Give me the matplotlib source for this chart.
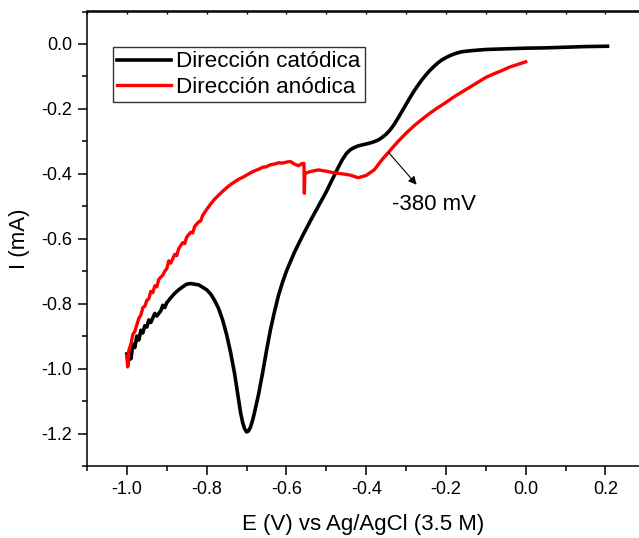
import matplotlib
matplotlib.use('Agg')
import matplotlib.pyplot as plt
from matplotlib.ticker import MultipleLocator

plt.rcParams['font.family'] = ['Liberation Sans', 'DejaVu Sans']
plt.rcParams['axes.unicode_minus'] = False

# cathodic sweep (0.2 V -> -1.0 V)
cat_e = [0.205, 0.15, 0.10, 0.05, 0.0, -0.05, -0.10, -0.12, -0.14, -0.16,
         -0.17, -0.18, -0.19, -0.20, -0.21, -0.22, -0.23, -0.24, -0.25, -0.26,
         -0.27, -0.28, -0.29, -0.30, -0.31, -0.32, -0.33, -0.34, -0.35, -0.36,
         -0.37, -0.38, -0.39, -0.40, -0.41, -0.42, -0.43, -0.44, -0.45, -0.46,
         -0.47, -0.48, -0.49, -0.50, -0.52, -0.54, -0.56, -0.58, -0.60, -0.61,
         -0.62, -0.63, -0.64, -0.65, -0.66, -0.67, -0.68, -0.685, -0.69, -0.695,
         -0.70, -0.705, -0.71, -0.715, -0.72, -0.725, -0.73, -0.74, -0.75, -0.76,
         -0.77, -0.78, -0.79, -0.80, -0.82, -0.84, -0.85, -0.86, -0.87, -0.88,
         -0.89, -0.90, -0.905, -0.91, -0.915, -0.925, -0.93, -0.94, -0.945, -0.95,
         -0.955, -0.96, -0.965, -0.97, -0.975, -0.98, -0.985, -0.99, -0.993, -0.997, -1.0]
cat_i = [-0.007, -0.008, -0.010, -0.012, -0.013, -0.015, -0.017, -0.019, -0.021, -0.024,
         -0.027, -0.031, -0.036, -0.042, -0.049, -0.058, -0.069, -0.081, -0.095, -0.110,
         -0.127, -0.145, -0.165, -0.186, -0.207, -0.228, -0.248, -0.265, -0.278, -0.288,
         -0.296, -0.301, -0.305, -0.308, -0.311, -0.314, -0.319, -0.326, -0.338, -0.357,
         -0.380, -0.405, -0.430, -0.455, -0.500, -0.545, -0.592, -0.642, -0.700, -0.735,
         -0.775, -0.825, -0.880, -0.945, -1.015, -1.080, -1.135, -1.160, -1.180, -1.192,
         -1.195, -1.185, -1.165, -1.135, -1.095, -1.055, -1.015, -0.950, -0.895, -0.850,
         -0.815, -0.790, -0.770, -0.757, -0.742, -0.738, -0.740, -0.748, -0.757, -0.768,
         -0.782, -0.797, -0.812, -0.805, -0.822, -0.838, -0.830, -0.858, -0.850, -0.872,
         -0.868, -0.890, -0.882, -0.912, -0.900, -0.935, -0.925, -0.970, -0.940, -0.985, -0.955]

# anodic sweep (-1.0 V -> 0.0 V)
ano_e = [-1.0, -0.998, -0.995, -0.99, -0.985, -0.98, -0.975, -0.97, -0.965, -0.96,
         -0.955, -0.95, -0.945, -0.94, -0.935, -0.93, -0.925, -0.92, -0.91, -0.905,
         -0.90, -0.895, -0.89, -0.88, -0.875, -0.87, -0.86, -0.855, -0.85, -0.84,
         -0.835, -0.83, -0.82, -0.815, -0.81, -0.80, -0.79, -0.78, -0.77, -0.76,
         -0.75, -0.74, -0.73, -0.72, -0.71, -0.70, -0.69, -0.68, -0.67, -0.66,
         -0.65, -0.64, -0.63, -0.62, -0.61, -0.60, -0.59, -0.58, -0.57, -0.56,
         -0.556, -0.555, -0.554, -0.55, -0.54, -0.52, -0.50, -0.48, -0.46, -0.44,
         -0.42, -0.40, -0.38, -0.36, -0.34, -0.32, -0.30, -0.28, -0.26, -0.24,
         -0.22, -0.20, -0.18, -0.16, -0.14, -0.12, -0.10, -0.08, -0.06, -0.04,
         -0.02, 0.0]
ano_i = [-0.960, -0.995, -0.945, -0.925, -0.895, -0.885, -0.865, -0.845, -0.835, -0.812,
         -0.808, -0.790, -0.785, -0.762, -0.766, -0.745, -0.748, -0.725, -0.712, -0.700,
         -0.692, -0.668, -0.675, -0.648, -0.652, -0.630, -0.612, -0.615, -0.595, -0.580,
         -0.582, -0.562, -0.548, -0.545, -0.528, -0.510, -0.493, -0.478, -0.466, -0.454,
         -0.443, -0.433, -0.425, -0.417, -0.411, -0.404, -0.397, -0.391, -0.386, -0.380,
         -0.378, -0.372, -0.370, -0.366, -0.367, -0.364, -0.362, -0.370, -0.375, -0.368,
         -0.368, -0.460, -0.400, -0.397, -0.393, -0.388, -0.392, -0.397, -0.400, -0.404,
         -0.412, -0.405, -0.388, -0.356, -0.328, -0.300, -0.275, -0.252, -0.232, -0.213,
         -0.196, -0.180, -0.163, -0.148, -0.133, -0.118, -0.103, -0.092, -0.082, -0.071,
         -0.063, -0.055]

labels = ['Dirección catódica', 'Dirección anódica']

fig = plt.figure(figsize=(6.39, 5.38), dpi=100)
ax = fig.add_axes([87 / 639, 1 - 466 / 538, 1 - 87 / 639, (466 - 11.5) / 538])

ax.plot(cat_e, cat_i, color='black', lw=2.6, label=labels[0])
ax.plot(ano_e, ano_i, color='red', lw=2.4, label=labels[1])

ax.annotate('', xy=(-0.269, -0.44), xytext=(-0.349, -0.327),
            arrowprops=dict(arrowstyle='-|>', color='black', lw=0.8, mutation_scale=12))
ax.text(-0.231, -0.493, '-380 mV', fontsize=16, ha='center', va='center')

ax.set_xlim(-1.1, 0.284)
ax.set_ylim(-1.3, 0.1)
ax.xaxis.set_major_locator(MultipleLocator(0.2))
ax.xaxis.set_minor_locator(MultipleLocator(0.1))
ax.yaxis.set_major_locator(MultipleLocator(0.2))
ax.yaxis.set_minor_locator(MultipleLocator(0.1))
ax.xaxis.set_major_formatter(plt.FormatStrFormatter('%.1f'))
ax.yaxis.set_major_formatter(plt.FormatStrFormatter('%.1f'))

ax.spines['right'].set_visible(False)
for s in ['left', 'bottom', 'top']:
    ax.spines[s].set_linewidth(1.1)
ax.tick_params(which='major', direction='out', length=6.5, width=1.1, labelsize=13, pad=4)
ax.tick_params(which='minor', direction='out', length=3.6, width=1.1)

# small inward ticks along the top edge
top = ax.secondary_xaxis('top')
top.xaxis.set_major_locator(MultipleLocator(0.1))
top.tick_params(direction='in', length=2, width=1.0, labeltop=False)
top.spines['top'].set_linewidth(1.1)

ax.set_xlabel('E (V) vs Ag/AgCl (3.5 M)', fontsize=16, labelpad=12)
ax.set_ylabel('I (mA)', fontsize=16, labelpad=8)

leg = ax.legend(loc='upper left', bbox_to_anchor=(0.047, 0.922), fontsize=16.2,
                frameon=True, fancybox=False, edgecolor='black', borderaxespad=0,
                borderpad=0.2, handlelength=2.4, handletextpad=0.2, labelspacing=0.2)
leg.get_frame().set_linewidth(1.0)

plt.savefig('out.png', dpi=100)
plt.close()
